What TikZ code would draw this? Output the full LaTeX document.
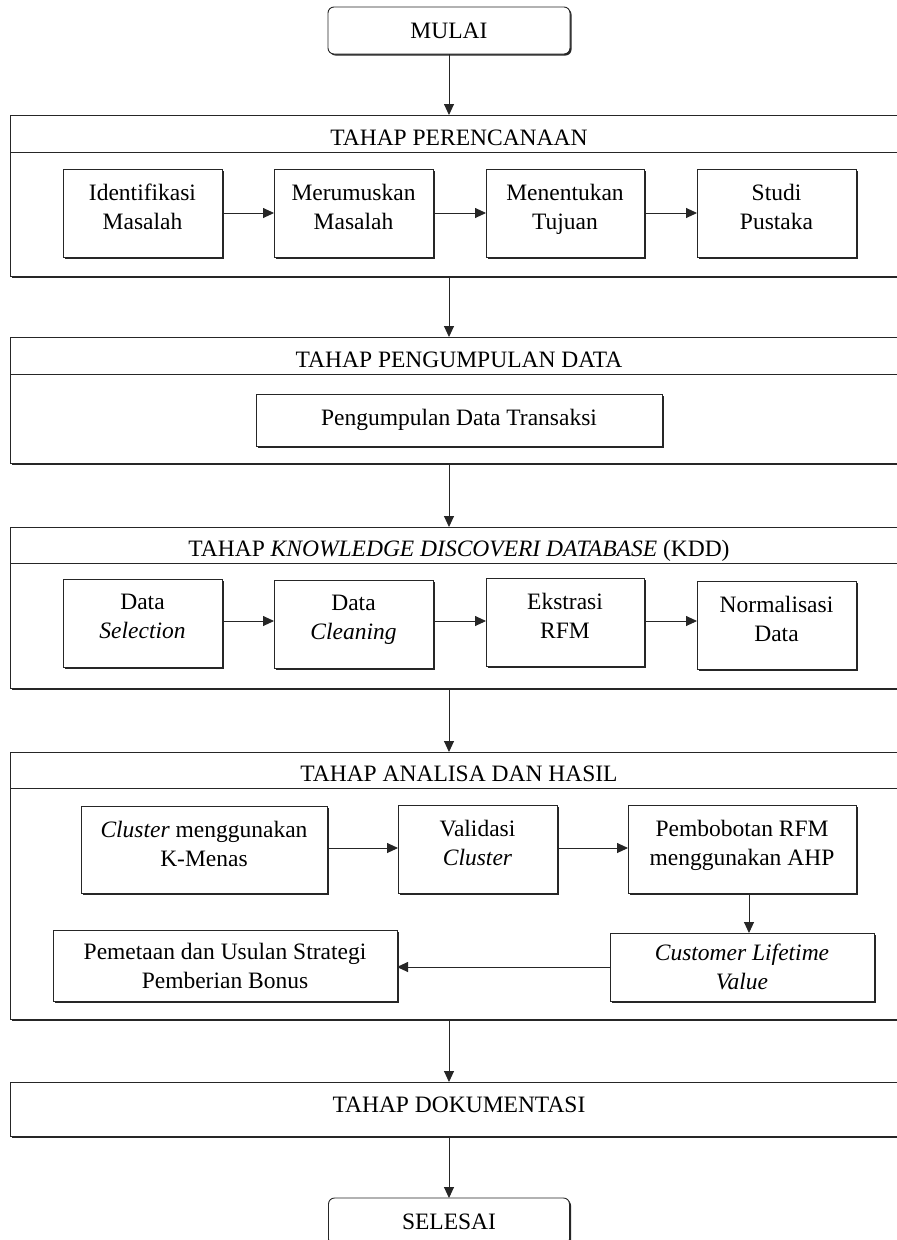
\documentclass[tikz,border=0pt]{standalone}
\usepackage{fontspec}
\setmainfont{Liberation Serif}
\usetikzlibrary{arrows.meta,shadows}
\newcommand\lowstrut{\rule[-13pt]{0pt}{13pt}}
\begin{document}
\begin{tikzpicture}[x=1pt,y=-1pt,
  font=\fontsize{23.5}{29}\selectfont,
  every node/.style={inner sep=0pt, outer sep=0pt},
  boxshadow/.style={drop shadow={shadow xshift=1.5pt,shadow yshift=-1.5pt,opacity=1,fill=black!85}},
  box/.style={draw=black!85, fill=white, line width=0.9pt, align=center, boxshadow},
  stage/.style={draw=black!85, fill=white, line width=0.9pt, boxshadow, anchor=north west},
  term/.style={box, rounded corners=6pt},
  arr/.style={line width=0.9pt, draw=black!85, -{Triangle[length=11pt,width=10pt]}},
  head/.style={anchor=base},
  sep/.style={line width=0.9pt, draw=black!85}
]
\useasboundingbox (0,0) rectangle (897,1240);
\clip (0,0) rectangle (897,1240);

% terminals
\node[term, minimum width=242pt, minimum height=47pt] (mulai) at (449,30.5) {MULAI};
\node[term, minimum width=241pt, minimum height=47pt] (selesai) at (449,1221.5) {SELESAI};

% stage frames
\node[stage, minimum width=898pt, minimum height=161pt] (s1) at (10,115) {};
\node[stage, minimum width=898pt, minimum height=126pt] (s2) at (10,337) {};
\node[stage, minimum width=898pt, minimum height=161pt] (s3) at (10,527) {};
\node[stage, minimum width=898pt, minimum height=267pt] (s4) at (10,752) {};
\node[stage, minimum width=898pt, minimum height=54pt] (s5) at (10,1082) {};

% header separators
\draw[sep] (s1.west |- 0,152) -- (s1.east |- 0,152);
\draw[sep] (s2.west |- 0,374) -- (s2.east |- 0,374);
\draw[sep] (s3.west |- 0,563) -- (s3.east |- 0,563);
\draw[sep] (s4.west |- 0,788) -- (s4.east |- 0,788);

% headers
\node[head] (h1) at (459,145) {TAHAP PERENCANAAN};
\node[head] (h2) at (459,367) {TAHAP PENGUMPULAN DATA};
\node[head] (h3) at (459,556) {TAHAP \textit{KNOWLEDGE DISCOVERI DATABASE} (KDD)};
\node[head] (h4) at (459,781) {TAHAP ANALISA DAN HASIL};
\node[head] (h5) at (459,1112) {TAHAP DOKUMENTASI};

% stage 1
\node[box, minimum width=159pt, minimum height=88pt] (a1) at (142.5,213) {Identifikasi\\Masalah\lowstrut};
\node[box, minimum width=159pt, minimum height=88pt] (a2) at (353.5,213) {Merumuskan\\Masalah\lowstrut};
\node[box, minimum width=158pt, minimum height=88pt] (a3) at (565,213) {Menentukan\\Tujuan\lowstrut};
\node[box, minimum width=159pt, minimum height=88pt] (a4) at (776.5,213) {Studi\\Pustaka\lowstrut};

% stage 2
\node[box, minimum width=406pt, minimum height=52pt] (b1) at (459,420) {Pengumpulan Data Transaksi};

% stage 3
\node[box, minimum width=159pt, minimum height=88pt] (c1) at (142.5,623) {Data\\\textit{Selection}\lowstrut};
\node[box, minimum width=159pt, minimum height=88pt] (c2) at (353.5,624) {Data\\\textit{Cleaning}\lowstrut};
\node[box, minimum width=158pt, minimum height=88pt] (c3) at (565,622) {Ekstrasi\\RFM\lowstrut};
\node[box, minimum width=159pt, minimum height=88pt] (c4) at (776.5,625) {Normalisasi\\Data\lowstrut};

% stage 4
\node[box, minimum width=246pt, minimum height=87pt] (d1) at (204,850) {\textit{Cluster} menggunakan\\K-Menas\lowstrut};
\node[box, minimum width=159pt, minimum height=88pt] (d2) at (477.5,849) {Validasi\\\textit{Cluster}\lowstrut};
\node[box, minimum width=228pt, minimum height=88pt] (d3) at (742,849) {Pembobotan RFM\\menggunakan AHP\lowstrut};
\node[box, minimum width=264pt, minimum height=68pt] (d4) at (742,967) {\textit{Customer Lifetime}\\\textit{Value}};
\node[box, minimum width=344pt, minimum height=71pt] (d5) at (225,965.5) {Pemetaan dan Usulan Strategi\\Pemberian Bonus};

% arrows between stages
\draw[arr] (mulai.south) -- (mulai.south |- s1.north);
\draw[arr] (s1.south -| mulai.south) -- (s2.north -| mulai.south);
\draw[arr] (s2.south -| mulai.south) -- (s3.north -| mulai.south);
\draw[arr] (s3.south -| mulai.south) -- (s4.north -| mulai.south);
\draw[arr] (s4.south -| mulai.south) -- (s5.north -| mulai.south);
\draw[arr] (s5.south -| mulai.south) -- (selesai.north);

% arrows inside stages
\draw[arr] (a1.east) -- (a2.west);
\draw[arr] (a2.east) -- (a3.west);
\draw[arr] (a3.east) -- (a4.west);
\draw[arr] (c1.east |- 0,621) -- (c2.west |- 0,621);
\draw[arr] (c2.east |- 0,621) -- (c3.west |- 0,621);
\draw[arr] (c3.east |- 0,621) -- (c4.west |- 0,621);
\draw[arr] (d1.east |- 0,848) -- (d2.west |- 0,848);
\draw[arr] (d2.east |- 0,848) -- (d3.west |- 0,848);
\draw[arr] ([xshift=7pt]d3.south) -- ([xshift=7pt]d3.south |- d4.north);
\draw[arr] (d4.west |- 0,967) -- (d5.east |- 0,967);
\end{tikzpicture}
\end{document}
